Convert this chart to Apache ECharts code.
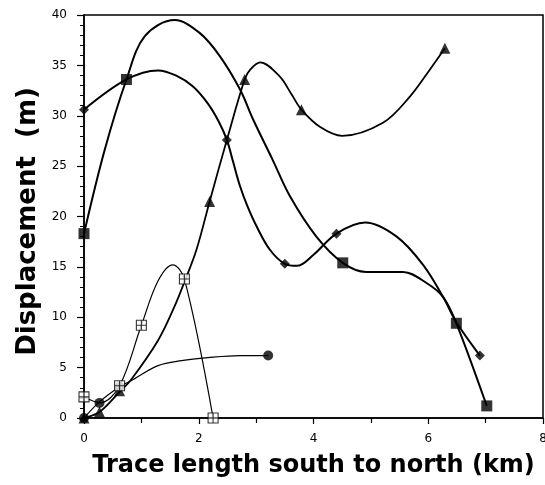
<!DOCTYPE html>
<html>
<head>
<meta charset="utf-8">
<script src="https://cdn.jsdelivr.net/npm/echarts@6/dist/echarts.min.js"></script>
<style>
html,body{margin:0;padding:0;background:#fff;}
#chart{width:545px;height:485px;}
</style>
</head>
<body>
<div id="chart"></div>
<script>
// ---- Data ----
const xTicks = [0, 2, 4, 6, 8];
const yTicks = [0, 5, 10, 15, 20, 25, 30, 35, 40];
const xTitle = 'Trace length south to north (km)';
const yTitle = 'Displacement  (m)';

// filled diamonds
const diamondCurve = [[0,30.6],[0.74,33.6],[1.29,34.5],[1.6,34.0],[1.9,32.9],[2.16,31.2],[2.35,29.4],[2.49,27.6],[2.6,25.4],[2.72,23.0],[2.85,21.0],[3.01,19.0],[3.24,16.7],[3.5,15.3],[3.71,15.1],[4.0,16.2],[4.4,18.3],[4.9,19.4],[5.45,18.0],[5.91,15.2],[6.26,12.0],[6.49,9.5],[6.9,6.2]];
const diamondPts = [[0,30.6],[2.49,27.6],[3.5,15.3],[4.4,18.3],[6.9,6.2]];

// filled squares
const squareCurve = [[0,18.3],[0.36,26.6],[0.74,33.6],[1.06,37.9],[1.58,39.5],[2.02,38.2],[2.37,35.9],[2.72,32.6],[2.95,29.6],[3.29,25.6],[3.59,22.0],[4.05,18.0],[4.51,15.4],[4.92,14.5],[5.56,14.5],[5.97,13.4],[6.26,12.0],[6.49,9.4],[7.02,1.2]];
const squarePts = [[0,18.3],[0.74,33.6],[4.51,15.4],[6.49,9.4],[7.02,1.2]];

// filled triangles
const triangleCurve = [[0,0],[0.27,0.6],[0.62,2.6],[0.82,3.8],[1.29,7.7],[1.58,11.1],[1.75,13.5],[1.96,16.7],[2.19,21.5],[2.49,27.6],[2.8,33.6],[2.9,34.6],[3.07,35.3],[3.41,33.9],[3.62,32.1],[3.79,30.6],[4.11,28.9],[4.5,28.0],[5.21,29.3],[5.68,31.9],[6.03,34.6],[6.29,36.7]];
const trianglePts = [[0,0],[0.27,0.6],[0.62,2.7],[2.19,21.5],[2.8,33.6],[3.79,30.6],[6.29,36.7]];

// open squares with cross
const openSquareCurve = [[0,2.1],[0.28,1.5],[0.62,3.2],[1.0,9.2],[1.29,13.6],[1.55,15.2],[1.75,13.8],[2.25,0]];
const openSquarePts = [[0,2.1],[0.62,3.2],[1.0,9.2],[1.75,13.8],[2.25,0]];

// filled circles
const circleCurve = [[0,0],[0.27,1.6],[0.62,3.1],[0.82,3.7],[1.29,5.2],[1.7,5.7],[2.16,6.0],[2.72,6.2],[3.21,6.2]];
const circlePts = [[0,0],[0.27,1.5],[0.62,3.1],[3.21,6.2]];

// ---- Chart ----
const chart = echarts.init(document.getElementById('chart'), null, {renderer: 'canvas'});
const black = '#000';
const boxSym = 'path://M0,0L10,0L10,10L0,10Z M5,0L5,10 M0,5L10,5';

function curve(data, w) {
  return {type: 'line', data: data, smooth: 0.35, showSymbol: false, symbol: 'none',
          lineStyle: {color: black, width: w}, z: 2, silent: true};
}
function pts(data, symbol, size, filled) {
  return {type: 'scatter', data: data, symbol: symbol, symbolSize: size, z: 3, silent: true,
          itemStyle: filled ? {color: black} : {color: '#fff', borderColor: black, borderWidth: 1.1}};
}

chart.setOption({
  animation: false,
  backgroundColor: '#fff',
  grid: {left: 84, right: 2, top: 15, bottom: 67, show: true, borderColor: black, borderWidth: 1.5,
         containLabel: false, outerBoundsMode: 'none'},
  xAxis: {
    type: 'value', min: xTicks[0], max: xTicks[xTicks.length - 1], interval: 2,
    name: xTitle, nameLocation: 'middle', nameGap: 36,
    nameTextStyle: {fontFamily: 'DejaVu Sans', fontWeight: 'bold', fontSize: 24, color: black},
    axisLine: {lineStyle: {color: black, width: 1.5}},
    axisTick: {inside: false, length: 6, lineStyle: {color: black, width: 1.2}},
    minorTick: {show: true, splitNumber: 2, length: 5, lineStyle: {color: black, width: 1.2}},
    splitLine: {show: false},
    axisLabel: {color: black, fontFamily: 'DejaVu Sans', fontSize: 12, margin: 15}
  },
  yAxis: {
    type: 'value', min: yTicks[0], max: yTicks[yTicks.length - 1], interval: 5,
    name: yTitle, nameLocation: 'middle', nameGap: 36,
    nameTextStyle: {fontFamily: 'DejaVu Sans', fontWeight: 'bold', fontSize: 26, color: black, padding: [0, 10, 0, 0]},
    axisLine: {lineStyle: {color: black, width: 1.5}},
    axisTick: {inside: false, length: 7, lineStyle: {color: black, width: 1.2}},
    minorTick: {show: true, splitNumber: 5, length: 4, lineStyle: {color: black, width: 1}},
    splitLine: {show: false},
    axisLabel: {color: black, fontFamily: 'DejaVu Sans', fontSize: 12, margin: 17}
  },
  series: [
    curve(squareCurve, 2), curve(diamondCurve, 2), curve(triangleCurve, 1.8),
    curve(openSquareCurve, 1.2), curve(circleCurve, 1.2),
    pts(squarePts, 'rect', 11, true),
    pts(diamondPts, 'diamond', 10, true),
    pts(trianglePts, 'triangle', 11, true),
    pts(circlePts, 'circle', 10, true),
    pts(openSquarePts, boxSym, 10, false)
  ]
});
</script>
</body>
</html>
